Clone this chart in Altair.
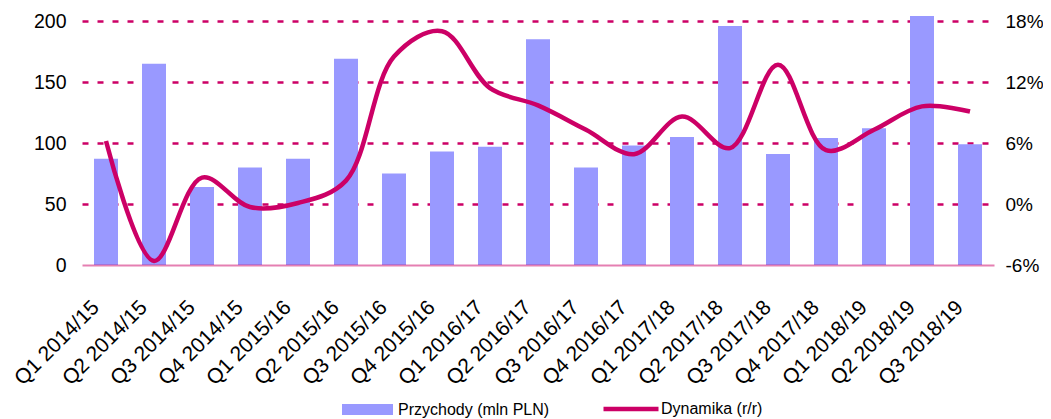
import altair as alt
import pandas as pd

quarters = [
    "Q1 2014/15", "Q2 2014/15", "Q3 2014/15", "Q4 2014/15",
    "Q1 2015/16", "Q2 2015/16", "Q3 2015/16", "Q4 2015/16",
    "Q1 2016/17", "Q2 2016/17", "Q3 2016/17", "Q4 2016/17",
    "Q1 2017/18", "Q2 2017/18", "Q3 2017/18", "Q4 2017/18",
    "Q1 2018/19", "Q2 2018/19", "Q3 2018/19",
]
revenue = [87, 165, 64, 80, 87, 169, 75, 93, 97, 185, 80, 98, 105, 196, 91, 104, 112, 204, 99]
growth = [6.2, -5.6, 2.6, -0.3, 0.1, 2.3, 14.5, 17.0, 11.4, 9.7, 7.3, 4.9, 8.6, 5.5, 13.7, 5.3, 7.3, 9.6, 9.1]

bar_name = "Przychody (mln PLN)"
line_name = "Dynamika (r/r)"
left_ticks = [0, 50, 100, 150, 200]
right_ticks = [-6, 0, 6, 12, 18]

df = pd.DataFrame({
    "q": quarters,
    "rev": revenue,
    "g": growth,
    "bs": [bar_name] * len(quarters),
    "ls": [line_name] * len(quarters),
})

FONT = "Liberation Sans"
PINK = "#CC0066"
BAR = "#9999FF"

base = alt.Chart(df).encode(
    x=alt.X(
        "q:N",
        sort=quarters,
        scale=alt.Scale(paddingInner=0.5, paddingOuter=0.25),
        axis=alt.Axis(
            title=None,
            labelAngle=-45,
            labelAlign="right",
            labelBaseline="middle",
            labelOffset=-10,
            labelPadding=39,
            labelFontSize=21,
            labelColor="#000000",
            ticks=False,
            tickSize=0,
            domain=True,
            domainColor=PINK,
            domainOpacity=0.5,
            domainWidth=2,
            grid=False,
            zindex=1,
        ),
    )
)

bars = base.mark_bar(color=BAR).encode(
    y=alt.Y(
        "rev:Q",
        scale=alt.Scale(domain=[0, 200], nice=False, zero=True),
        axis=alt.Axis(
            title=None,
            values=left_ticks,
            grid=True,
            gridColor=PINK,
            gridDash=[6, 9],
            gridWidth=2.5,
            gridOpacity=alt.condition("datum.value === 0", alt.value(0), alt.value(1)),
            domain=False,
            ticks=False,
            tickSize=0,
            labelPadding=16,
            labelFontSize=19.5,
            labelColor="#000000",
        ),
    ),
    fill=alt.Fill(
        "bs:N",
        scale=alt.Scale(domain=[bar_name], range=[BAR]),
        legend=alt.Legend(
            title=None,
            orient="none",
            legendX=260,
            legendY=363,
            symbolType="M-1,-0.216H1V0.216H-1Z",
            symbolSize=2601,
            symbolStrokeWidth=0,
            symbolOpacity=1,
            labelFontSize=16,
            labelOffset=5,
            labelColor="#000000",
            padding=0,
        ),
    ),
)

line = base.mark_line(interpolate="catmull-rom", strokeWidth=4.5).encode(
    y=alt.Y(
        "g:Q",
        scale=alt.Scale(domain=[-6, 18], nice=False, zero=False),
        axis=alt.Axis(
            title=None,
            orient="right",
            values=right_ticks,
            labelExpr="datum.value + '%'",
            grid=False,
            domain=False,
            ticks=False,
            tickSize=0,
            labelPadding=11,
            labelFontSize=19,
            labelColor="#000000",
        ),
    ),
    stroke=alt.Stroke(
        "ls:N",
        scale=alt.Scale(domain=[line_name], range=[PINK]),
        legend=alt.Legend(
            title=None,
            orient="none",
            legendX=519,
            legendY=358,
            symbolType="stroke",
            symbolSize=3025,
            symbolStrokeWidth=4.5,
            labelFontSize=16,
            labelOffset=0,
            labelColor="#000000",
            padding=0,
        ),
    ),
)

chart = (
    alt.layer(bars, line)
    .resolve_scale(y="independent")
    .properties(
        width=912,
        height=244,
        autosize=alt.AutoSizeParams(type="none"),
        padding={"left": 74, "top": 13, "right": 49, "bottom": 154},
    )
    .configure(font=FONT)
    .configure_view(stroke=None)
)

chart.save("out.html", embed_options={"renderer": "svg", "actions": False})
